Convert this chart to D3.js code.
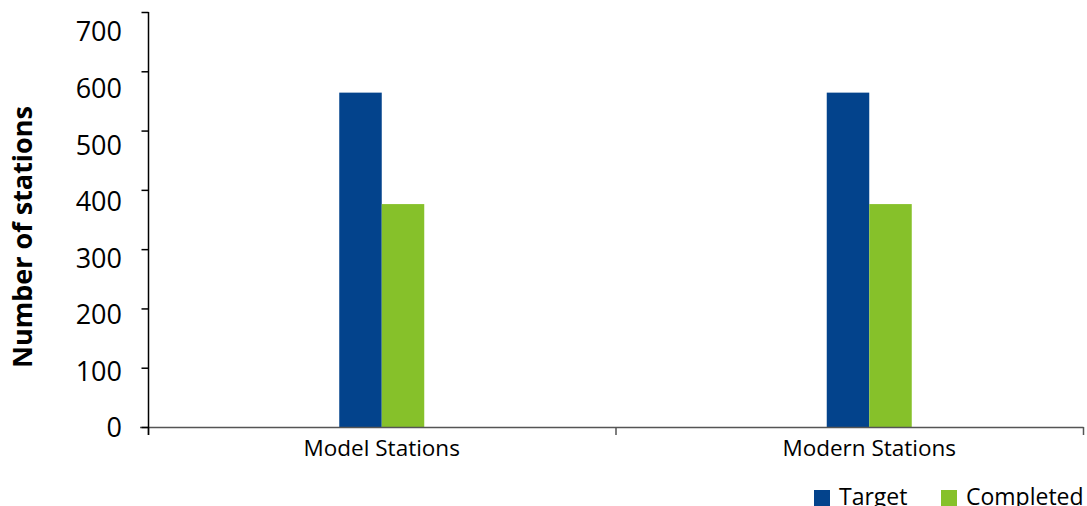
<!DOCTYPE html>
<html>
<head>
<script src="https://d3js.org/d3.v7.min.js"></script>
<style>
  body { margin: 0; background: #fff; }
  text { font-family: "Open Sans", sans-serif; }
</style>
</head>
<body>
<script>

var w = 1087, h = 506;

var categories = ["Model Stations", "Modern Stations"];
var seriesNames = ["Target", "Completed"];
var target = [564, 564];
var completed = [376, 376];
var yTicks = [0, 100, 200, 300, 400, 500, 600, 700];
var colors = ["#03438c", "#86c12a"];

var rows = categories.map(function(c, i){
  return {cat: c, values: [target[i], completed[i]]};
});

var svg = d3.select("body").append("svg").attr("width", w).attr("height", h);

var y = d3.scaleLinear().domain([0, 700]).range([427, 12]);
// tick labels in the original are spaced a bit tighter than the tick marks
var yLab = d3.scaleLinear().domain([0, 700]).range([428, 32]);

// tick boundaries along the category axis
var xTicks = d3.scaleBand().domain(categories).range([148, 1083]);
// bar groups sit a little right of the band centres in the original
var x = d3.scaleBand().domain(categories).range([138, 1113]);
var xSub = d3.scaleBand().domain(seriesNames).range([-42.5, 42.5]);

// bars
var groups = svg.selectAll("g.grp")
  .data(rows).enter().append("g")
  .attr("class", "grp")
  .attr("transform", function(d){ return "translate(" + (x(d.cat) + x.bandwidth()/2) + ",0)"; });

groups.selectAll("rect")
  .data(function(d){ return d.values.map(function(v, i){ return {name: seriesNames[i], v: v, i: i}; }); })
  .enter().append("rect")
  .attr("x", function(d){ return xSub(d.name); })
  .attr("width", xSub.bandwidth())
  .attr("y", function(d){ return y(d.v); })
  .attr("height", function(d){ return y(0) - y(d.v); })
  .attr("fill", function(d){ return colors[d.i]; });

// x axis line + ticks
svg.append("line")
  .attr("x1", 140).attr("x2", 1083.5)
  .attr("y1", y(0) + 0.5).attr("y2", y(0) + 0.5)
  .attr("stroke", "#555").attr("stroke-width", 1.5);

var xt = categories.map(function(c){ return xTicks(c); }).concat([xTicks.range()[1]]);
svg.selectAll("line.xtick")
  .data(xt).enter().append("line")
  .attr("class", "xtick")
  .attr("x1", function(d){ return d + 0.5; }).attr("x2", function(d){ return d + 0.5; })
  .attr("y1", y(0)).attr("y2", y(0) + 8)
  .attr("stroke", "#555").attr("stroke-width", 1.5);

svg.selectAll("text.xlab")
  .data(categories).enter().append("text")
  .attr("class", "xlab")
  .attr("x", function(d){ return x(d) + x.bandwidth()/2; })
  .attr("y", 456)
  .attr("text-anchor", "middle")
  .attr("font-size", "22.5px")
  .attr("fill", "#000")
  .text(function(d){ return d; });

// y axis
var yAxis = d3.axisLeft(y).tickValues(yTicks).tickSize(7).tickFormat("");
var ya = svg.append("g").attr("transform", "translate(148.5,0)").call(yAxis);
ya.select(".domain").attr("d", "M0," + y(700) + "V" + (y(0) + 8)).attr("stroke", "#000").attr("stroke-width", 1.5);
ya.selectAll(".tick line").attr("stroke", "#000").attr("stroke-width", 1.5);

svg.selectAll("text.ylab")
  .data(yTicks).enter().append("text")
  .attr("class", "ylab")
  .attr("x", 122)
  .attr("y", function(d){ return yLab(d); })
  .attr("dy", "0.35em")
  .attr("text-anchor", "end")
  .attr("font-size", "27px")
  .attr("fill", "#000")
  .text(function(d){ return d; });

svg.append("text")
  .attr("transform", "translate(32,237) rotate(-90)")
  .attr("text-anchor", "middle")
  .attr("font-size", "27px")
  .attr("font-weight", "bold")
  .attr("fill", "#000")
  .text("Number of stations");

// legend
var legendX = [814, 941];
var leg = svg.selectAll("g.leg")
  .data(seriesNames).enter().append("g")
  .attr("class", "leg")
  .attr("transform", function(d, i){ return "translate(" + legendX[i] + ",490)"; });
leg.append("rect").attr("width", 16).attr("height", 16)
  .attr("fill", function(d, i){ return colors[i]; });
leg.append("text")
  .attr("x", 25).attr("y", 15)
  .attr("font-size", "23px")
  .attr("fill", "#000")
  .text(function(d){ return d; });

</script>
</body>
</html>
